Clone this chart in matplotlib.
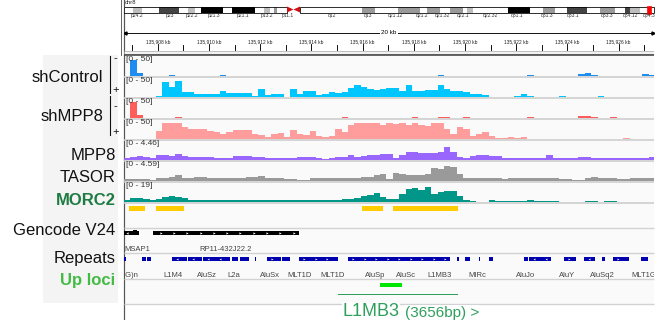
import numpy as np
import matplotlib
matplotlib.use('Agg')
import matplotlib.pyplot as plt
from matplotlib.patches import Rectangle, Polygon

plt.rcParams['font.family'] = ['Liberation Sans', 'DejaVu Sans']

W, H = 664, 320

#------------------------------------------------------------------------------
# datos -----------------------------------------------------------------------
view_start = 135906.68   # kb
view_end = 135927.38
bin_kb = 0.25

sh_control_minus = [0, 48, 9, 0, 0, 0, 0, 2, 0, 0, 0, 0, 1, 0, 0, 2.5, 0, 0, 0, 0,
                    0, 0, 0, 0, 1, 0, 0, 0, 0, 1, 1, 1, 0, 0, 0, 0, 0, 0, 0, 0,
                    0, 0, 0, 0, 1, 0, 1, 1, 0, 4.5, 0, 0, 0, 0, 0, 1, 0, 0, 1, 0,
                    0, 0, 0, 3.5, 1, 0, 0, 1, 0, 0, 0, 6, 9, 4.5, 0, 0, 0, 0, 0, 0,
                    0, 6, 4.5]
sh_control_plus = [0, 0, 0, 0, 0, 4.5, 45, 30, 48, 15, 15, 9, 9, 9, 9, 18, 12, 12, 12, 12,
                   4.5, 24, 6, 9, 10.5, 1.5, 24, 9, 18, 18, 6, 9, 15, 12, 15, 27, 36, 30, 24, 21,
                   24, 27, 27, 18, 36, 18, 18, 21, 21, 36, 24, 18, 18, 15, 9, 9, 7.5, 1, 1, 0,
                   1, 3, 9, 3, 0, 0, 0, 0, 3, 0, 1.5, 1.5, 1.5, 1, 4.5, 0, 1.5, 1.5, 0, 0,
                   0, 0, 0]
sh_mpp8_minus = [0, 48, 9, 0, 0, 0, 0, 0, 4.5, 1, 0, 0, 1, 0, 0, 0, 0, 0, 0, 0,
                 0, 1, 0, 0, 0, 0, 0, 0, 0, 1, 0, 0, 0, 0, 4.5, 0, 0, 0, 0, 0,
                 0, 0, 0, 1, 0, 4.5, 0, 0, 0, 4.5, 4.5, 0, 0, 3, 0, 1.5, 0, 0, 0, 0,
                 1, 0, 0, 4.5, 0, 0, 1, 0, 1, 0, 0, 6, 6, 3, 1, 0, 4.5, 0, 1, 1,
                 0, 1, 0]
sh_mpp8_plus = [0, 0, 0, 0, 0, 24, 50, 50, 50, 36, 30, 30, 31.5, 24, 21, 15, 21, 27, 27, 27,
                15, 12, 6, 15, 18, 6, 27, 15, 12, 24, 9, 7.5, 9, 30, 21, 42, 48, 50, 50, 50,
                42, 50, 45, 48, 42, 50, 42, 39, 50, 50, 30, 15, 36, 30, 10, 15, 21, 9, 4.5, 3,
                7.5, 3, 6, 1.5, 0, 0, 0, 0, 0, 0, 0, 0, 0, 0, 1.5, 0, 0, 1.5, 4.5, 1.5,
                0, 0, 0]
mpp8 = [0.54, 0.81, 0.95, 0.81, 0.54, 1.22, 1.22, 1.08, 1.49, 1.08, 0.81, 0.81, 0.68, 0.68,
        0.54, 0.54, 0.54, 0.95, 1.08, 0.95, 0.68, 0.68, 0.54, 0.54, 0.54, 0.41, 0.41, 0.68,
        0.81, 0.81, 0.54, 0.27, 0.54, 0.68, 0.68, 1.22, 0.81, 1.08, 1.22, 1.22, 1.62, 1.62,
        0.54, 1.35, 2.03, 2.03, 1.89, 1.76, 1.89, 2.03, 3.4, 2.2, 0.68, 0.54, 1.08, 1.22,
        1.22, 1.08, 1.08, 0.54, 0.41, 0.41, 0.41, 0.41, 0.41, 0.41, 1.35, 0.54, 0.41, 0.41,
        0.41, 0.68, 0.68, 0.54, 0.41, 0.41, 0.41, 0.41, 0.41, 0.54, 0.54, 0.54, 0.68]
tasor = [0.42, 0.42, 0.42, 0.42, 0.14, 0.7, 0.7, 1.11, 1.67, 0.83, 0.83, 1.11, 1.11, 0.83,
         0.83, 0.7, 0.7, 0.97, 0.97, 1.11, 1.11, 1.39, 0.83, 0.83, 0.83, 0.56, 0.42, 0.28,
         0.14, 0.83, 0.83, 0.83, 0.97, 0.97, 0.7, 0.7, 0.7, 1.11, 1.11, 1.67, 1.95, 0.42,
         2.09, 1.95, 1.67, 1.67, 1.67, 1.95, 3.61, 3.34, 4.17, 3.89, 1.95, 0.7, 0.7, 0.7,
         0.83, 0.7, 0.7, 0.42, 0.7, 0.7, 0.83, 0.83, 0.7, 0.7, 0.7, 0.7, 0.42, 0.42,
         0.14, 0.14, 0.97, 1.11, 0.83, 0.7, 0.7, 0.42, 0.42, 0.7, 0.7, 0.7, 0.7]
morc2 = [1.73, 5.18, 4.6, 2.88, 1.73, 4.03, 5.75, 6.9, 5.75, 4.6, 1.73, 1.73, 2.3, 1.73,
         1.73, 1.73, 1.73, 2.3, 2.3, 2.3, 2.3, 1.73, 1.73, 2.3, 2.3, 2.3, 1.73, 1.73,
         2.3, 2.3, 2.3, 1.73, 2.3, 2.3, 2.88, 2.88, 4.6, 6.9, 8.05, 10.35, 5.75, 4.03,
         4.03, 9.2, 14.95, 16.1, 13.8, 17.3, 9.2, 11.5, 13.2, 12.65, 6.9, 2.3, 0.58, 0.35,
         0.35, 1.73, 1.15, 0.58, 0.58, 0.58, 0.58, 1.73, 1.15, 0.58, 0.58, 0.92, 0.35, 0.35,
         0.35, 0.35, 0.92, 0.58, 0.35, 0.92, 0.58, 0.35, 0.35, 0.35, 0.35, 0.35, 0.35]

senales = [sh_control_minus, sh_control_plus, sh_mpp8_minus, sh_mpp8_plus, mpp8, tasor, morc2]
escalas = [50, 50, 50, 50, 4.46, 4.59, 19]
rangos = ['[0 - 50]', '[0 - 50]', '[0 - 50]', '[0 - 50]', '[0 - 4.46]', '[0 - 4.59]', '[0 - 19]']
colores = ['#1e8cf0', '#00c6ff', '#ff5c5c', '#ff9c9c', '#9966ff', '#9a9a9a', '#009688']

morc2_picos_ini = [135906.875, 135907.93, 135915.98, 135917.19]
morc2_picos_fin = [135907.50, 135909.02, 135916.80, 135919.73]

genes_ini = [135906.50, 135907.81]
genes_fin = [135907.27, 135913.52]
genes_hebra = ['-', '+']
genes_nombres = ['MSAP1', 'RP11-432J22.2']
genes_label_x = [135906.70, 135910.63]

rep_ini = [135906.60, 135907.38, 135907.58, 135908.55, 135909.18, 135909.77, 135910.90,
           135911.21, 135911.80, 135912.27, 135912.85, 135913.52, 135915.43, 135919.69,
           135920.00, 135920.55, 135920.94, 135922.31, 135922.50, 135923.87, 135924.65,
           135925.35, 135925.78, 135926.88]
rep_fin = [135906.76, 135907.54, 135907.73, 135909.14, 135909.73, 135910.82, 135911.13,
           135911.56, 135911.84, 135912.81, 135913.16, 135915.04, 135919.41, 135919.77,
           135920.20, 135920.59, 135921.09, 135922.46, 135923.36, 135924.34, 135925.08,
           135925.47, 135926.41, 135927.15]
rep_hebra = ['+', '+', '+', '-', '-', '-', '+', '-', '+', '+', '+', '+', '+', '+',
             '+', '+', '+', '+', '-', '+', '-', '+', '+', '+']
rep_nombres = ['(CG)n', 'L1M4', 'AluSz', 'L2a', 'AluSx', 'MLT1D', 'MLT1D', 'AluSp', 'AluSc',
               'L1MB3', 'MIRc', 'AluJo', 'AluY', 'AluSq2', 'MLT1G']
rep_label_x = [135906.85, 135908.59, 135909.92, 135910.98, 135912.38, 135913.55, 135914.84,
               135916.48, 135917.70, 135919.02, 135920.47, 135922.38, 135923.98, 135925.35,
               135926.99]

up_ini = [135916.68]
up_fin = [135917.54]
l1mb3_ini = 135915.04
l1mb3_fin = 135919.69
l1mb3_len = 3656

# ideograma chr8 (unidades relativas al panel)
bandas_ini = [0, 9, 18, 35, 55, 64, 71, 77, 99, 108, 131, 140, 146, 150, 153, 176, 238, 251,
              274, 296, 303, 316, 326, 339, 343, 349, 384, 406, 419, 431, 443, 463, 476, 491,
              501, 506, 516]
bandas_fin = [9, 18, 35, 55, 64, 71, 77, 99, 108, 131, 140, 146, 150, 153, 163, 238, 251, 274,
              296, 303, 316, 326, 339, 343, 349, 384, 406, 419, 431, 443, 463, 476, 491, 501,
              506, 516, 530]
bandas_tincion = ['gneg', 'gpos25', 'gneg', 'gpos75', 'gneg', 'gpos25', 'gneg', 'gpos100',
                  'gneg', 'gpos100', 'gneg', 'gpos25', 'gneg', 'gpos50', 'gneg', 'gneg',
                  'gpos50', 'gneg', 'gpos50', 'gneg', 'gpos50', 'gneg', 'gpos50', 'gneg',
                  'gpos25', 'gneg', 'gpos100', 'gneg', 'gpos50', 'gneg', 'gpos75', 'gneg',
                  'gpos50', 'gneg', 'gpos75', 'gpos25', 'gneg']
centromero = [163, 176]
bandas_nombres = ['p24.2', 'p23', 'p22.2', 'p21.3', 'p21.1', 'p13.2', 'p11.1', 'q12', 'q13',
                  'q21.12', 'q21.2', 'q21.32', 'q22.1', 'q22.32', 'q31.1', 'q31.3', 'q33.1',
                  'q33.3', 'q34.12', 'q34.3']
bandas_label_x = [13, 46, 68, 90, 119, 143, 164, 208, 244, 271, 298, 318, 339, 366, 393, 423,
                  449, 483, 506, 525]
posicion_vista = 524.5

etiquetas = ['MPP8', 'TASOR', 'MORC2', 'Gencode V24', 'Repeats', 'Up loci']
etiquetas_y = [155, 178, 200.5, 230.5, 258, 281]
etiquetas_color = ['#111111', '#111111', '#1e7b43', '#111111', '#111111', '#44bb44']
etiquetas_peso = ['normal', 'normal', 'bold', 'normal', 'normal', 'bold']

#------------------------------------------------------------------------------
# figura ----------------------------------------------------------------------
fig = plt.figure(figsize=(W / 100, H / 100), dpi=100)


def px_ax(x0, y0, x1, y1):
    return fig.add_axes([x0 / W, 1 - y1 / H, (x1 - x0) / W, (y1 - y0) / H])


PX = 0.72  # 1 px en puntos

fondo = px_ax(0, 0, W, H)
fondo.set_xlim(0, W)
fondo.set_ylim(H, 0)
fondo.axis('off')
fondo.add_patch(Rectangle((43, 55), 75, 248, fc='#f4f4f4', ec='none'))
fondo.add_patch(Rectangle((124, 55), 530, 249, fc='#fafafa', ec='none'))
fondo.plot([123.5, 123.5], [0, H], color='#555555', lw=1.2 * PX)
fondo.plot([120.5, 120.5], [0, 55], color='#666666', lw=1 * PX)

baselines = [76, 97, 118, 139, 160, 181, 202]
for b in baselines:
    fondo.plot([124, 654], [b + 0.8, b + 0.8], color='#cccccc', lw=1.6 * PX, solid_capstyle='butt')
for yy in [227.7, 253.3, 279, 304.3]:
    fondo.plot([124, 654], [yy, yy], color='#d2d2d2', lw=1.4 * PX, solid_capstyle='butt')

# etiquetas izquierda
fondo.text(103, 77.7, 'shControl', ha='right', va='center', fontsize=12, color='#111111')
fondo.text(103, 116.7, 'shMPP8', ha='right', va='center', fontsize=12, color='#111111')
fondo.plot([110, 110], [56, 93], color='#111111', lw=1.1 * PX)
fondo.plot([110, 110], [96, 135], color='#111111', lw=1.1 * PX)
for yy, s in [(58.5, '-'), (90.5, '+'), (106.5, '-'), (132.3, '+')]:
    fondo.text(115.5, yy, s, ha='center', va='center', fontsize=8, color='#111111')
for lab, yy, c, w in zip(etiquetas, etiquetas_y, etiquetas_color, etiquetas_peso):
    fondo.text(115.5, yy, lab, ha='right', va='center', fontsize=12, color=c, fontweight=w)

# ideograma
ideo = px_ax(124, 0, 654, 20)
ideo.set_xlim(0, 530)
ideo.set_ylim(20, 0)
ideo.axis('off')
tinciones = {'gneg': 'white', 'gpos25': '#bdbdbd', 'gpos50': '#9a9a9a',
             'gpos75': '#444444', 'gpos100': '#000000'}
for s, e, t in zip(bandas_ini, bandas_fin, bandas_tincion):
    ideo.add_patch(Rectangle((s, 6.5), e - s, 6, fc=tinciones[t], ec='none'))
ideo.add_patch(Rectangle((0, 6.5), centromero[0], 6, fc='none', ec='black', lw=0.8 * PX))
ideo.add_patch(Rectangle((centromero[1], 6.5), 530 - centromero[1], 6, fc='none', ec='black',
                         lw=0.8 * PX, clip_on=False))
cm = (centromero[0] + centromero[1]) / 2
ideo.add_patch(Polygon([(centromero[0], 6.5), (centromero[0], 12.5), (cm, 9.5)], fc='#d01010', ec='none'))
ideo.add_patch(Polygon([(centromero[1], 6.5), (centromero[1], 12.5), (cm, 9.5)], fc='#d01010', ec='none'))
ideo.add_patch(Rectangle((posicion_vista - 1.5, 5.5), 3.5, 8, fc='#ff0000', ec='#ff0000', lw=0.5))
ideo.text(1, 3, 'chr8', fontsize=4.2, ha='left', va='center', color='#222222')
for lab, x in zip(bandas_nombres, bandas_label_x):
    ideo.text(x, 15.3, lab, fontsize=3.6, ha='center', va='center', color='#333333')

# regla
regla = px_ax(124, 20, 654, 56)
regla.set_xlim(view_start, view_end)
regla.set_ylim(56, 20)
regla.axis('off')
regla.plot([view_start, view_end], [33, 33], color='black', lw=0.9 * PX)
regla.plot([view_start + 0.05], [33], marker='<', color='black', ms=2.2)
regla.plot([view_end - 0.05], [33], marker='>', color='black', ms=2.2)
regla.text((view_start + view_end) / 2, 33, '20 kb', ha='center', va='center', fontsize=4.5,
           bbox=dict(fc='white', ec='none', pad=1.0))
for kb in np.arange(135907, 135928):
    if kb % 2 == 0:
        regla.plot([kb, kb], [43.5, 50], color='black', lw=0.9 * PX)
        regla.text(kb, 41.3, '{:,} kb'.format(int(kb)), ha='center', va='center', fontsize=3.5,
                   color='#222222')
    else:
        regla.plot([kb, kb], [45, 50], color='black', lw=0.9 * PX)
regla.add_patch(Rectangle((view_start, 50.5), view_end - view_start, 3.2, fc='#f2f2f2',
                          ec='#9a9a9a', lw=0.6 * PX))
regla.plot([view_start, view_end], [54.6, 54.6], color='#444444', lw=1.6 * PX)

# pistas de senal
for vals, vmax, c, rng, b in zip(senales, escalas, colores, rangos, baselines):
    ax = px_ax(124, b - 16.5, 654, b)
    ax.set_xlim(view_start, view_end)
    ax.set_ylim(0, vmax)
    ax.axis('off')
    bordes = view_start + bin_kb * np.arange(len(vals) + 1)
    ax.stairs(vals, bordes, fill=True, color=c, lw=0)
    ax.text(0.0047, 1.0, rng, transform=ax.transAxes, fontsize=6, ha='left', va='center',
            color='#333333', clip_on=False)

# anotaciones
ann = px_ax(124, 203, 654, H)
ann.set_xlim(view_start, view_end)
ann.set_ylim(H, 203)
ann.axis('off')
ann.broken_barh([(s, e - s) for s, e in zip(morc2_picos_ini, morc2_picos_fin)], (205.7, 4.8),
                facecolors='#ffcc00')

# gencode
ann.broken_barh([(s, e - s) for s, e in zip(genes_ini, genes_fin)], (231, 4.3), facecolors='black')
ann.broken_barh([(135907.03, 0.16)], (229.8, 5.5), facecolors='black')
for s, e, h in zip(genes_ini, genes_fin, genes_hebra):
    xs = np.arange(s + 0.3, e - 0.15, 0.52)
    ann.plot(xs, np.full(len(xs), 233.2), ls='none', marker='>' if h == '+' else '<',
             color='white', ms=1.6, mew=0)
for lab, x in zip(genes_nombres, genes_label_x):
    ann.text(x, 249.3, lab, ha='left' if x < 135907 else 'center', va='center', fontsize=5.5,
             color='#444444')

# repeats
ann.broken_barh([(s, e - s) for s, e in zip(rep_ini, rep_fin)], (256.7, 4), facecolors='#0000b0')
for s, e, h in zip(rep_ini, rep_fin, rep_hebra):
    if e - s > 0.4:
        xs = np.arange(s + 0.2, e - 0.1, 0.45)
        ann.plot(xs, np.full(len(xs), 258.7), ls='none', marker='>' if h == '+' else '<',
                 color='white', ms=1.4, mew=0)
for lab, x in zip(rep_nombres, rep_label_x):
    ann.text(x, 275.7, lab, ha='center', va='center', fontsize=5.5, color='#444444', clip_on=True)

# up loci
ann.broken_barh([(s, e - s) for s, e in zip(up_ini, up_fin)], (282.7, 4), facecolors='#00e600')
ann.plot([l1mb3_ini, l1mb3_fin], [294, 294], color='#2ea05c', lw=1 * PX)
t1 = ann.text(l1mb3_ini + 0.16, 315.5, 'L1MB3', ha='left', va='baseline', fontsize=13,
              color='#2ea05c', bbox=dict(fc='white', ec='none', pad=0.3))
ann.annotate('({}bp) >'.format(l1mb3_len), xy=(1, 0), xycoords=t1, xytext=(4, 0),
             textcoords='offset points', ha='left', va='bottom', fontsize=11, color='#2ea05c',
             bbox=dict(fc='white', ec='none', pad=0.3))

fig.savefig('out.png', dpi=100)
